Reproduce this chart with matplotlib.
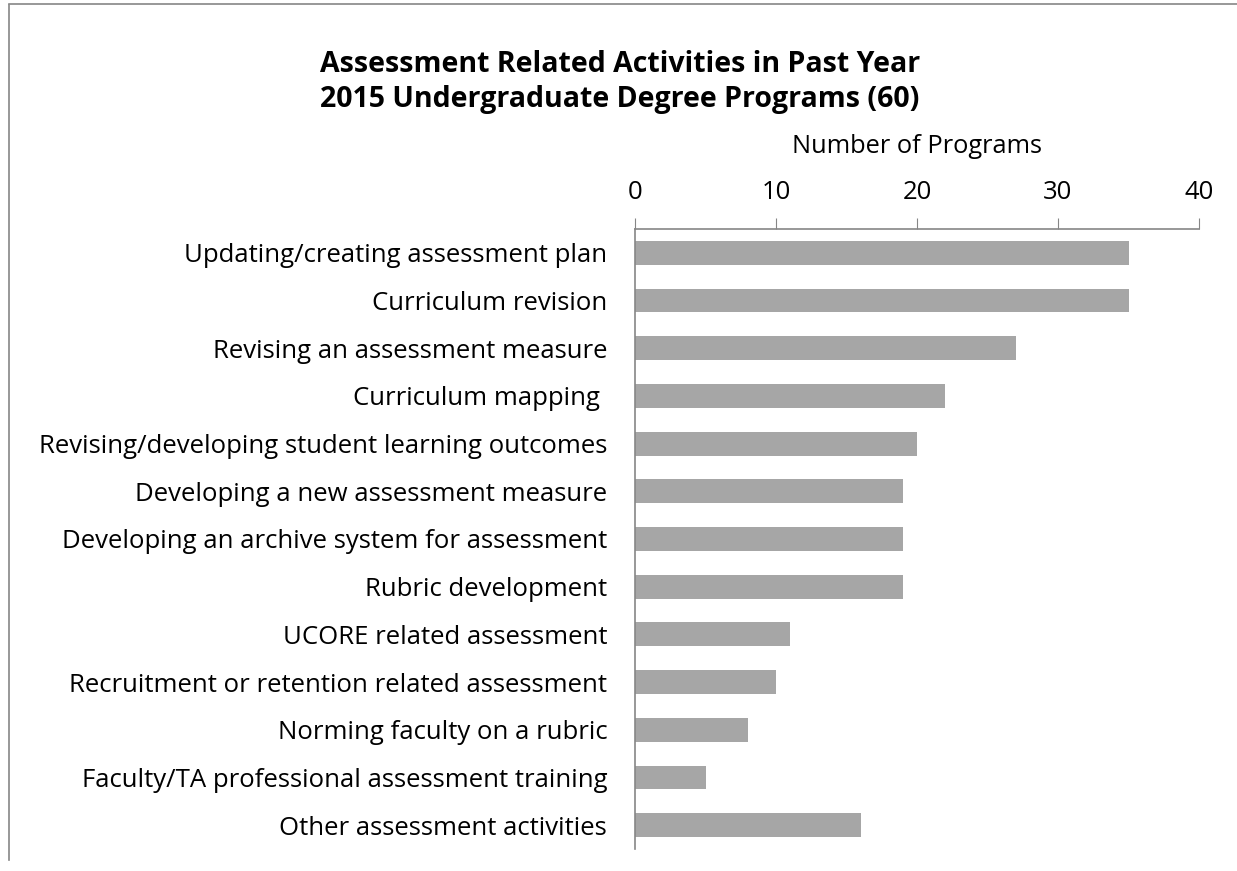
import matplotlib
matplotlib.use("Agg")
import matplotlib.pyplot as plt
from matplotlib.lines import Line2D

categories = [
    "Updating/creating assessment plan",
    "Curriculum revision",
    "Revising an assessment measure",
    "Curriculum mapping ",
    "Revising/developing student learning outcomes",
    "Developing a new assessment measure",
    "Developing an archive system for assessment",
    "Rubric development",
    "UCORE related assessment",
    "Recruitment or retention related assessment",
    "Norming faculty on a rubric",
    "Faculty/TA professional assessment training",
    "Other assessment activities",
]
values = [35, 35, 27, 22, 20, 19, 19, 19, 11, 10, 8, 5, 16]
xticks = [0, 10, 20, 30, 40]

plt.rcParams['font.family'] = ['Open Sans', 'DejaVu Sans']
W, H = 1237, 871
fig = plt.figure(figsize=(W / 100, H / 100), dpi=100)
ax = fig.add_axes([635 / W, 1 - 849 / H, (1199 - 635) / W, (849 - 229) / H])

y = list(range(len(categories)))
ax.barh(y, values, height=0.5, color='#a6a6a6')
ax.set_ylim(len(categories) - 0.5, -0.5)
ax.set_xlim(0, 40)
ax.set_xticks(xticks)
ax.xaxis.tick_top()
ax.xaxis.set_label_position('top')
ax.set_xlabel("Number of Programs", fontsize=18.3, labelpad=20)
ax.set_yticks(y)
ax.set_yticklabels(categories, fontsize=18.5)
ax.tick_params(axis='x', labelsize=18.5, length=8, color='#868686', pad=9)
ax.tick_params(axis='y', length=0, pad=20)

for s in ['bottom', 'right']:
    ax.spines[s].set_visible(False)
for s in ['top', 'left']:
    ax.spines[s].set_color('#868686')
    ax.spines[s].set_linewidth(1.2)

fig.text(620 / W, 1 - 82 / H, "Assessment Related Activities in Past Year\n2015 Undergraduate Degree Programs (60)",
         ha='center', va='center', fontsize=20.5, fontweight='bold', linespacing=1.25)

# outer frame lines (left and top)
fig.add_artist(Line2D([9 / W, 9 / W], [1 - 5 / H, 1 - 860 / H], color='#868686', lw=1.2))
fig.add_artist(Line2D([9 / W, 1], [1 - 4 / H, 1 - 4 / H], color='#868686', lw=1.2))

fig.savefig("out.png", dpi=100)
